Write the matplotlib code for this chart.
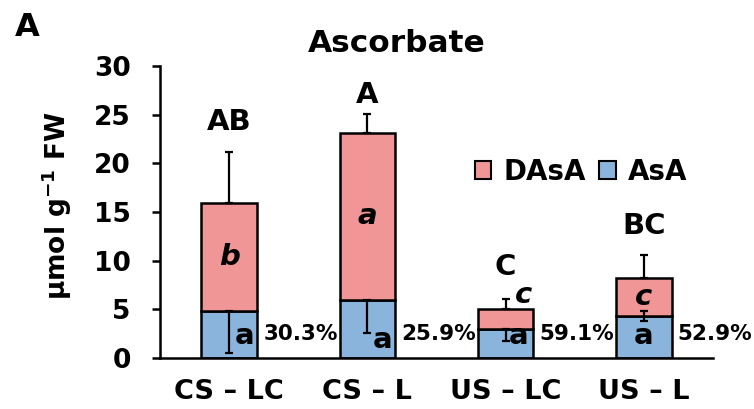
import matplotlib
matplotlib.use("Agg")
import matplotlib.pyplot as plt
from matplotlib.patches import Patch
import numpy as np

# ---- data ----
categories = ["CS – LC", "CS – L", "US – LC", "US – L"]
asa = [4.8, 6.0, 2.95, 4.3]
dasa = [11.1, 17.15, 2.05, 3.95]
dasa_err = [5.3, 1.95, 1.1, 2.35]
asa_err_low = [4.3, 3.4, 1.25, 0.5]
asa_err_high = [0.0, 0.0, 0.0, 0.5]
group_letters = ["AB", "A", "C", "BC"]
dasa_letters = ["b", "a", "c", "c"]
asa_letters = ["a", "a", "a", "a"]
pct_labels = ["30.3%", "25.9%", "59.1%", "52.9%"]

# ---- style / layout ----
plt.rcParams['font.family'] = ['DejaVu Sans']
plt.rcParams['font.weight'] = 'bold'
plt.rcParams['mathtext.default'] = 'bf'
pink = "#F09696"
blue = "#8AB4DC"
lw = 1.8

fig = plt.figure(figsize=(7.54, 4.09), dpi=100)
W, H = 754, 409
ax = fig.add_axes([160 / W, 1 - 358 / H, 553 / W, 292 / H])

x = np.arange(len(categories))
width = 0.4
asa_a = np.array(asa)
dasa_a = np.array(dasa)
tot = asa_a + dasa_a

ax.bar(x, asa_a, width, color=blue, edgecolor="black", linewidth=lw, zorder=2)
ax.bar(x, dasa_a, width, bottom=asa_a, color=pink, edgecolor="black", linewidth=lw, zorder=2)

ax.errorbar(x, tot, yerr=[np.zeros(4), dasa_err], fmt="none", ecolor="black",
            elinewidth=1.6, capsize=3, capthick=1.6, zorder=3)
ax.errorbar(x, asa_a, yerr=[asa_err_low, asa_err_high], fmt="none", ecolor="black",
            elinewidth=1.6, capsize=3, capthick=1.6, zorder=3)

ax.set_xlim(-0.5, 3.5)
ax.set_ylim(0, 30)
ax.set_yticks([0, 5, 10, 15, 20, 25, 30])
ax.set_xticks(x)
ax.set_xticklabels(categories, fontsize=19.5, fontweight="bold")
ax.tick_params(axis="y", labelsize=19, width=1.8, length=6, pad=15)
ax.tick_params(axis="x", length=0, pad=15)
for t in ax.get_yticklabels():
    t.set_fontweight("bold")
for s in ["top", "right"]:
    ax.spines[s].set_visible(False)
for s in ["left", "bottom"]:
    ax.spines[s].set_linewidth(1.8)

fig.text(57 / W, 1 - 206 / H, "μmol g$^{-1}$ FW", fontsize=19, fontweight="bold",
         rotation=90, ha="center", va="center")
fig.text(397 / W, 1 - 44 / H, "Ascorbate", fontsize=22.5, fontweight="bold",
         ha="center", va="center")
fig.text(27 / W, 1 - 28 / H, "A", fontsize=23, fontweight="bold", ha="center", va="center")

# group letters above error bars
letter_offsets = [3.0, 1.9, 3.3, 3.0]
for i in range(4):
    ax.text(x[i], tot[i] + dasa_err[i] + letter_offsets[i], group_letters[i],
            ha="center", va="center", fontsize=21, fontweight="bold")

# DAsA letters
dasa_dx = [0, 0, 0.13, 0]
for i in range(4):
    if i == 2:
        ypos = tot[i] + 1.5
    else:
        ypos = asa_a[i] + dasa_a[i] / 2
    ax.text(x[i] + dasa_dx[i], ypos, dasa_letters[i], ha="center", va="center",
            fontsize=21, fontweight="bold", style="italic")

# AsA letters
asa_dx = [0.112, 0.112, 0.095, 0]
asa_y = [2.3, 1.8, 2.3, 2.3]
for i in range(4):
    ax.text(x[i] + asa_dx[i], asa_y[i], asa_letters[i], ha="center", va="center",
            fontsize=21, fontweight="bold")

# percentages
for i in range(4):
    ax.text(x[i] + 0.515, 2.5, pct_labels[i], ha="center", va="center",
            fontsize=15.5, fontweight="bold")

handles = [Patch(facecolor=pink, edgecolor="black", linewidth=1.5, label="DAsA"),
           Patch(facecolor=blue, edgecolor="black", linewidth=1.5, label="AsA")]
ax.legend(handles=handles, loc="center", bbox_to_anchor=(0.761, 0.637), ncol=2,
          frameon=False, handlelength=0.6, handleheight=0.6,
          handletextpad=0.43, columnspacing=0.47, borderpad=0,
          prop={"weight": "bold", "size": 20})

fig.savefig("out.png", dpi=100)
